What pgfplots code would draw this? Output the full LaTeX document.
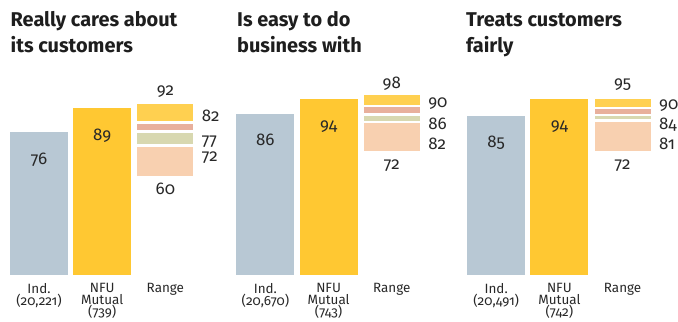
\documentclass[border=0pt]{standalone}
\usepackage{fontspec}
\setmainfont{Fira Sans}[Numbers=OldStyle]
\usepackage{pgfplots}
\pgfplotsset{compat=1.18}
\definecolor{indc}{RGB}{184,200,212}
\definecolor{nfuc}{RGB}{255,200,50}
\definecolor{ryel}{RGB}{255,208,80}
\definecolor{rpink}{RGB}{232,176,156}
\definecolor{rgreen}{RGB}{216,216,176}
\definecolor{rpeach}{RGB}{248,208,176}
\definecolor{txt}{RGB}{40,40,40}
\definecolor{ttl}{RGB}{30,30,30}
\newcommand\vfont{\fontsize{17}{17}\selectfont}
\newcommand\tfont{\fontsize{20}{20}\selectfont\bfseries}
\tikzset{
  lab/.style={anchor=base, font=\vfont, text=txt, inner sep=0pt},
  slab/.style={anchor=base west, font=\vfont, text=txt, inner sep=0pt},
}
\pgfplotsset{
  panel/.style={
    scale only axis, width=189.6bp, height=187bp,
    xmin=-0.5, xmax=2.5, ymin=0, ymax=100,
    anchor=south west, clip=false,
    axis line style={draw=none}, tick style={draw=none},
    ytick=\empty, xtick={0,1,2},
    xticklabel style={align=center, anchor=north, font=\fontsize{13.5}{12}\selectfont, text=txt, yshift=-5.5bp},
  },
  valbar/.style={ybar, bar width=58bp, bar shift=0pt, draw=none,
    point meta=explicit symbolic, nodes near coords,
    every node near coord/.append style={anchor=base, yshift=-32bp, font=\vfont, text=txt}},
}
\newcommand\band[3]{\addplot[fill=#1, draw=none] coordinates {(1.557,#2) (2.443,#2) (2.443,#3) (1.557,#3)};}
\begin{document}
\begin{tikzpicture}[x=1bp,y=1bp]
% Panel 1
\begin{axis}[panel, at={(7.4bp,47.5bp)},
  xticklabels={{Ind.\\(20,221)},{NFU\\Mutual\\(739)},{Range}}]
\addplot[valbar, fill=indc] coordinates {(0,76) [76]};
\addplot[valbar, fill=nfuc] coordinates {(1,89) [89]};
\band{ryel}{82.2}{91.2}
\band{rpink}{77.1}{80.5}
\band{rgreen}{69.8}{75.5}
\band{rpeach}{52.7}{68.0}
\node[lab] at (axis cs:2,95.6) {92};
\node[slab] at (axis cs:2.575,81.7) {82};
\node[slab] at (axis cs:2.575,69.1) {77};
\node[slab] at (axis cs:2.575,60.3) {72};
\node[lab] at (axis cs:2,43.0) {60};
\end{axis}
% Panel 2
\begin{axis}[panel, at={(233.8bp,47.5bp)},
  xticklabels={{Ind.\\(20,670)},{NFU\\Mutual\\(743)},{Range}}]
\addplot[valbar, fill=indc] coordinates {(0,86) [86]};
\addplot[valbar, fill=nfuc] coordinates {(1,94) [94]};
\band{ryel}{90.5}{96.0}
\band{rpink}{86.3}{89.4}
\band{rgreen}{82.1}{84.9}
\band{rpeach}{66.0}{81.0}
\node[lab] at (axis cs:2,99.2) {98};
\node[slab] at (axis cs:2.575,89.2) {90};
\node[slab] at (axis cs:2.575,77.3) {86};
\node[slab] at (axis cs:2.575,66.6) {82};
\node[lab] at (axis cs:2,56.4) {72};
\end{axis}
% Panel 3
\begin{axis}[panel, at={(464.6bp,47.5bp)},
  xticklabels={{Ind.\\(20,491)},{NFU\\Mutual\\(742)},{Range}}]
\addplot[valbar, fill=indc] coordinates {(0,85) [85]};
\addplot[valbar, fill=nfuc] coordinates {(1,94) [94]};
\band{ryel}{89.6}{93.9}
\band{rpink}{85.7}{88.3}
\band{rgreen}{83.0}{84.6}
\band{rpeach}{66.2}{81.4}
\node[lab] at (axis cs:2,99.2) {95};
\node[slab] at (axis cs:2.575,88.2) {90};
\node[slab] at (axis cs:2.575,77.6) {84};
\node[slab] at (axis cs:2.575,66.6) {81};
\node[lab] at (axis cs:2,56.4) {72};
\end{axis}
% Titles
\node[anchor=base west, font=\tfont, text=ttl, inner sep=0pt] at (10.5bp,295.3bp) {Really cares about};
\node[anchor=base west, font=\tfont, text=ttl, inner sep=0pt] at (10.5bp,269.7bp) {its customers};
\node[anchor=base west, font=\tfont, text=ttl, inner sep=0pt] at (237bp,295.3bp) {Is easy to do};
\node[anchor=base west, font=\tfont, text=ttl, inner sep=0pt] at (237bp,269.7bp) {business with};
\node[anchor=base west, font=\tfont, text=ttl, inner sep=0pt] at (466bp,295.3bp) {Treats customers};
\node[anchor=base west, font=\tfont, text=ttl, inner sep=0pt] at (466bp,269.7bp) {fairly};
\pgfresetboundingbox
\path (0bp,0bp) rectangle (678bp,322bp);
\end{tikzpicture}
\end{document}
